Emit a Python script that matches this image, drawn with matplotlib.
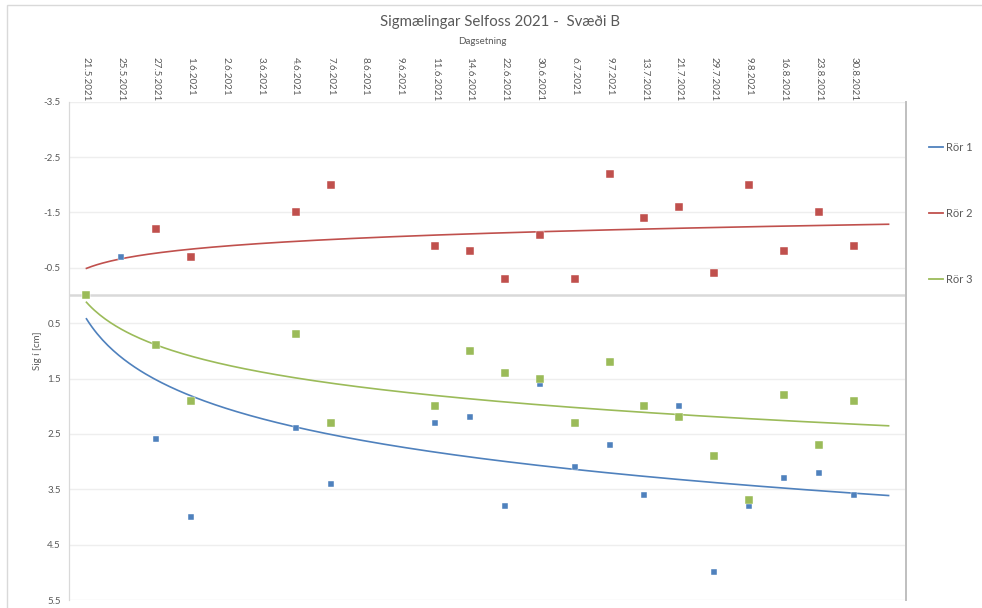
import matplotlib

matplotlib.use("Agg")
import matplotlib.pyplot as plt
import matplotlib.transforms as mtransforms
import numpy as np
from matplotlib.lines import Line2D
from matplotlib.patches import Rectangle

plt.rcParams["font.family"] = ["Lato", "DejaVu Sans"]

# Dagsetningar (category axis, last slot is empty like in the Excel sheet)
dates = [
    "21.5.2021", "25.5.2021", "27.5.2021", "1.6.2021", "2.6.2021", "3.6.2021",
    "4.6.2021", "7.6.2021", "8.6.2021", "9.6.2021", "11.6.2021", "14.6.2021",
    "22.6.2021", "30.6.2021", "6.7.2021", "9.7.2021", "13.7.2021", "21.7.2021",
    "29.7.2021", "9.8.2021", "16.8.2021", "23.8.2021", "30.8.2021", "",
]

# Sig [cm] per rör, None = engin mæling
ror1 = [0, -0.7, 2.6, 4.0, None, None, 2.4, 3.4, None, None, 2.3, 2.2,
        3.8, 1.6, 3.1, 2.7, 3.6, 2.0, 5.0, 3.8, 3.3, 3.2, 3.6, None]
ror2 = [0, None, -1.2, -0.7, None, None, -1.5, -2.0, None, None, -0.9, -0.8,
        -0.3, -1.1, -0.3, -2.2, -1.4, -1.6, -0.4, -2.0, -0.8, -1.5, -0.9, None]
ror3 = [0, None, 0.9, 1.9, None, None, 0.7, 2.3, None, None, 2.0, 1.0,
        1.4, 1.5, 2.3, 1.2, 2.0, 2.2, 2.9, 3.7, 1.8, 2.7, 1.9, None]

series_names = ["Rör 1", "Rör 2", "Rör 3"]
y_ticks = [-3.5, -2.5, -1.5, -0.5, 0.5, 1.5, 2.5, 3.5, 4.5, 5.5]

COLORS = ["#4f81bd", "#c0504d", "#9bbb59"]
MARKER_SIZES = [4.2, 5.5, 5.5]
TEXT = "#595959"

W, H = 982, 608


def _as_array(values):
    return np.array([np.nan if v is None else v for v in values], dtype=float)


def _log_trend(values):
    # Excel-style logarithmic trendline on category index 1..N
    y = _as_array(values)
    x = np.arange(1, len(y) + 1, dtype=float)
    ok = ~np.isnan(y)
    a, b = np.polyfit(np.log(x[ok]), y[ok], 1)
    xs = np.linspace(1, len(y), 300)
    return xs - 1, a * np.log(xs) + b


def main():
    fig = plt.figure(figsize=(W / 100, H / 100), dpi=100)
    fig.patches.append(
        Rectangle((7 / W, -0.1), 1.2, (H - 5) / H + 0.1, transform=fig.transFigure,
                  fill=False, edgecolor="#d9d9d9", linewidth=1.0)
    )

    left, right, top, bottom = 69, 906, 101.7, 600
    ax = fig.add_axes([left / W, (H - bottom) / H, (right - left) / W, (bottom - top) / H])

    idx = np.arange(len(dates))
    all_series = [ror1, ror2, ror3]

    for k, vals in enumerate(all_series):
        tx, ty = _log_trend(vals)
        ax.plot(tx, ty, color=COLORS[k], linewidth=1.2, zorder=2)
    for k, vals in enumerate(all_series):
        ax.plot(idx, _as_array(vals), linestyle="none", marker="s",
                markersize=MARKER_SIZES[k], color=COLORS[k],
                markeredgecolor="white", markeredgewidth=0.3, zorder=3 + k)

    ax.set_xlim(-0.5, len(dates) - 0.5)
    ax.set_ylim(5.5, -3.5)
    ax.set_yticks(y_ticks)
    ax.set_yticklabels([f"{t:g}" for t in y_ticks])
    ax.set_xticks([])
    ax.tick_params(axis="y", length=0, pad=6, labelsize=7, labelcolor=TEXT)
    ax.yaxis.grid(True, color="#eeeeee", linewidth=1.0)
    ax.set_axisbelow(True)
    ax.axhline(0, color="#d9d9d9", linewidth=1.8, zorder=1)

    for side in ["top", "bottom"]:
        ax.spines[side].set_visible(False)
    ax.spines["left"].set_color("#d9d9d9")
    ax.spines["left"].set_linewidth(0.9)
    ax.spines["right"].set_color("#bfbfbf")
    ax.spines["right"].set_linewidth(1.4)

    # date labels on top, rotated and top-aligned like Excel
    trans = mtransforms.blended_transform_factory(ax.transData, fig.transFigure)
    for i, d in enumerate(dates):
        ax.text(i, 1 - 57 / H, d, transform=trans, rotation=270, ha="center", va="top",
                fontsize=7, color=TEXT)

    fig.text(500 / W, 1 - 22 / H, "Sigmælingar Selfoss 2021 -  Svæði B", ha="center", va="center",
             fontsize=10.8, color=TEXT)
    fig.text(482 / W, 1 - 41 / H, "Dagsetning", ha="center", va="center", fontsize=7, color=TEXT)
    fig.text(37 / W, 1 - 351 / H, "Sig í [cm]", ha="center", va="center", rotation=90,
             fontsize=7, color=TEXT)

    handles = [Line2D([0], [0], color=c, linewidth=1.3) for c in COLORS]
    fig.legend(handles, series_names, loc="upper left", bbox_to_anchor=(929 / W, 1 - 142 / H),
               frameon=False, fontsize=8, labelcolor=TEXT, handlelength=1.3, handletextpad=0.2,
               labelspacing=4.95, borderpad=0, borderaxespad=0)

    fig.savefig("out.png", dpi=100)
    plt.close(fig)


if __name__ == "__main__":
    main()
